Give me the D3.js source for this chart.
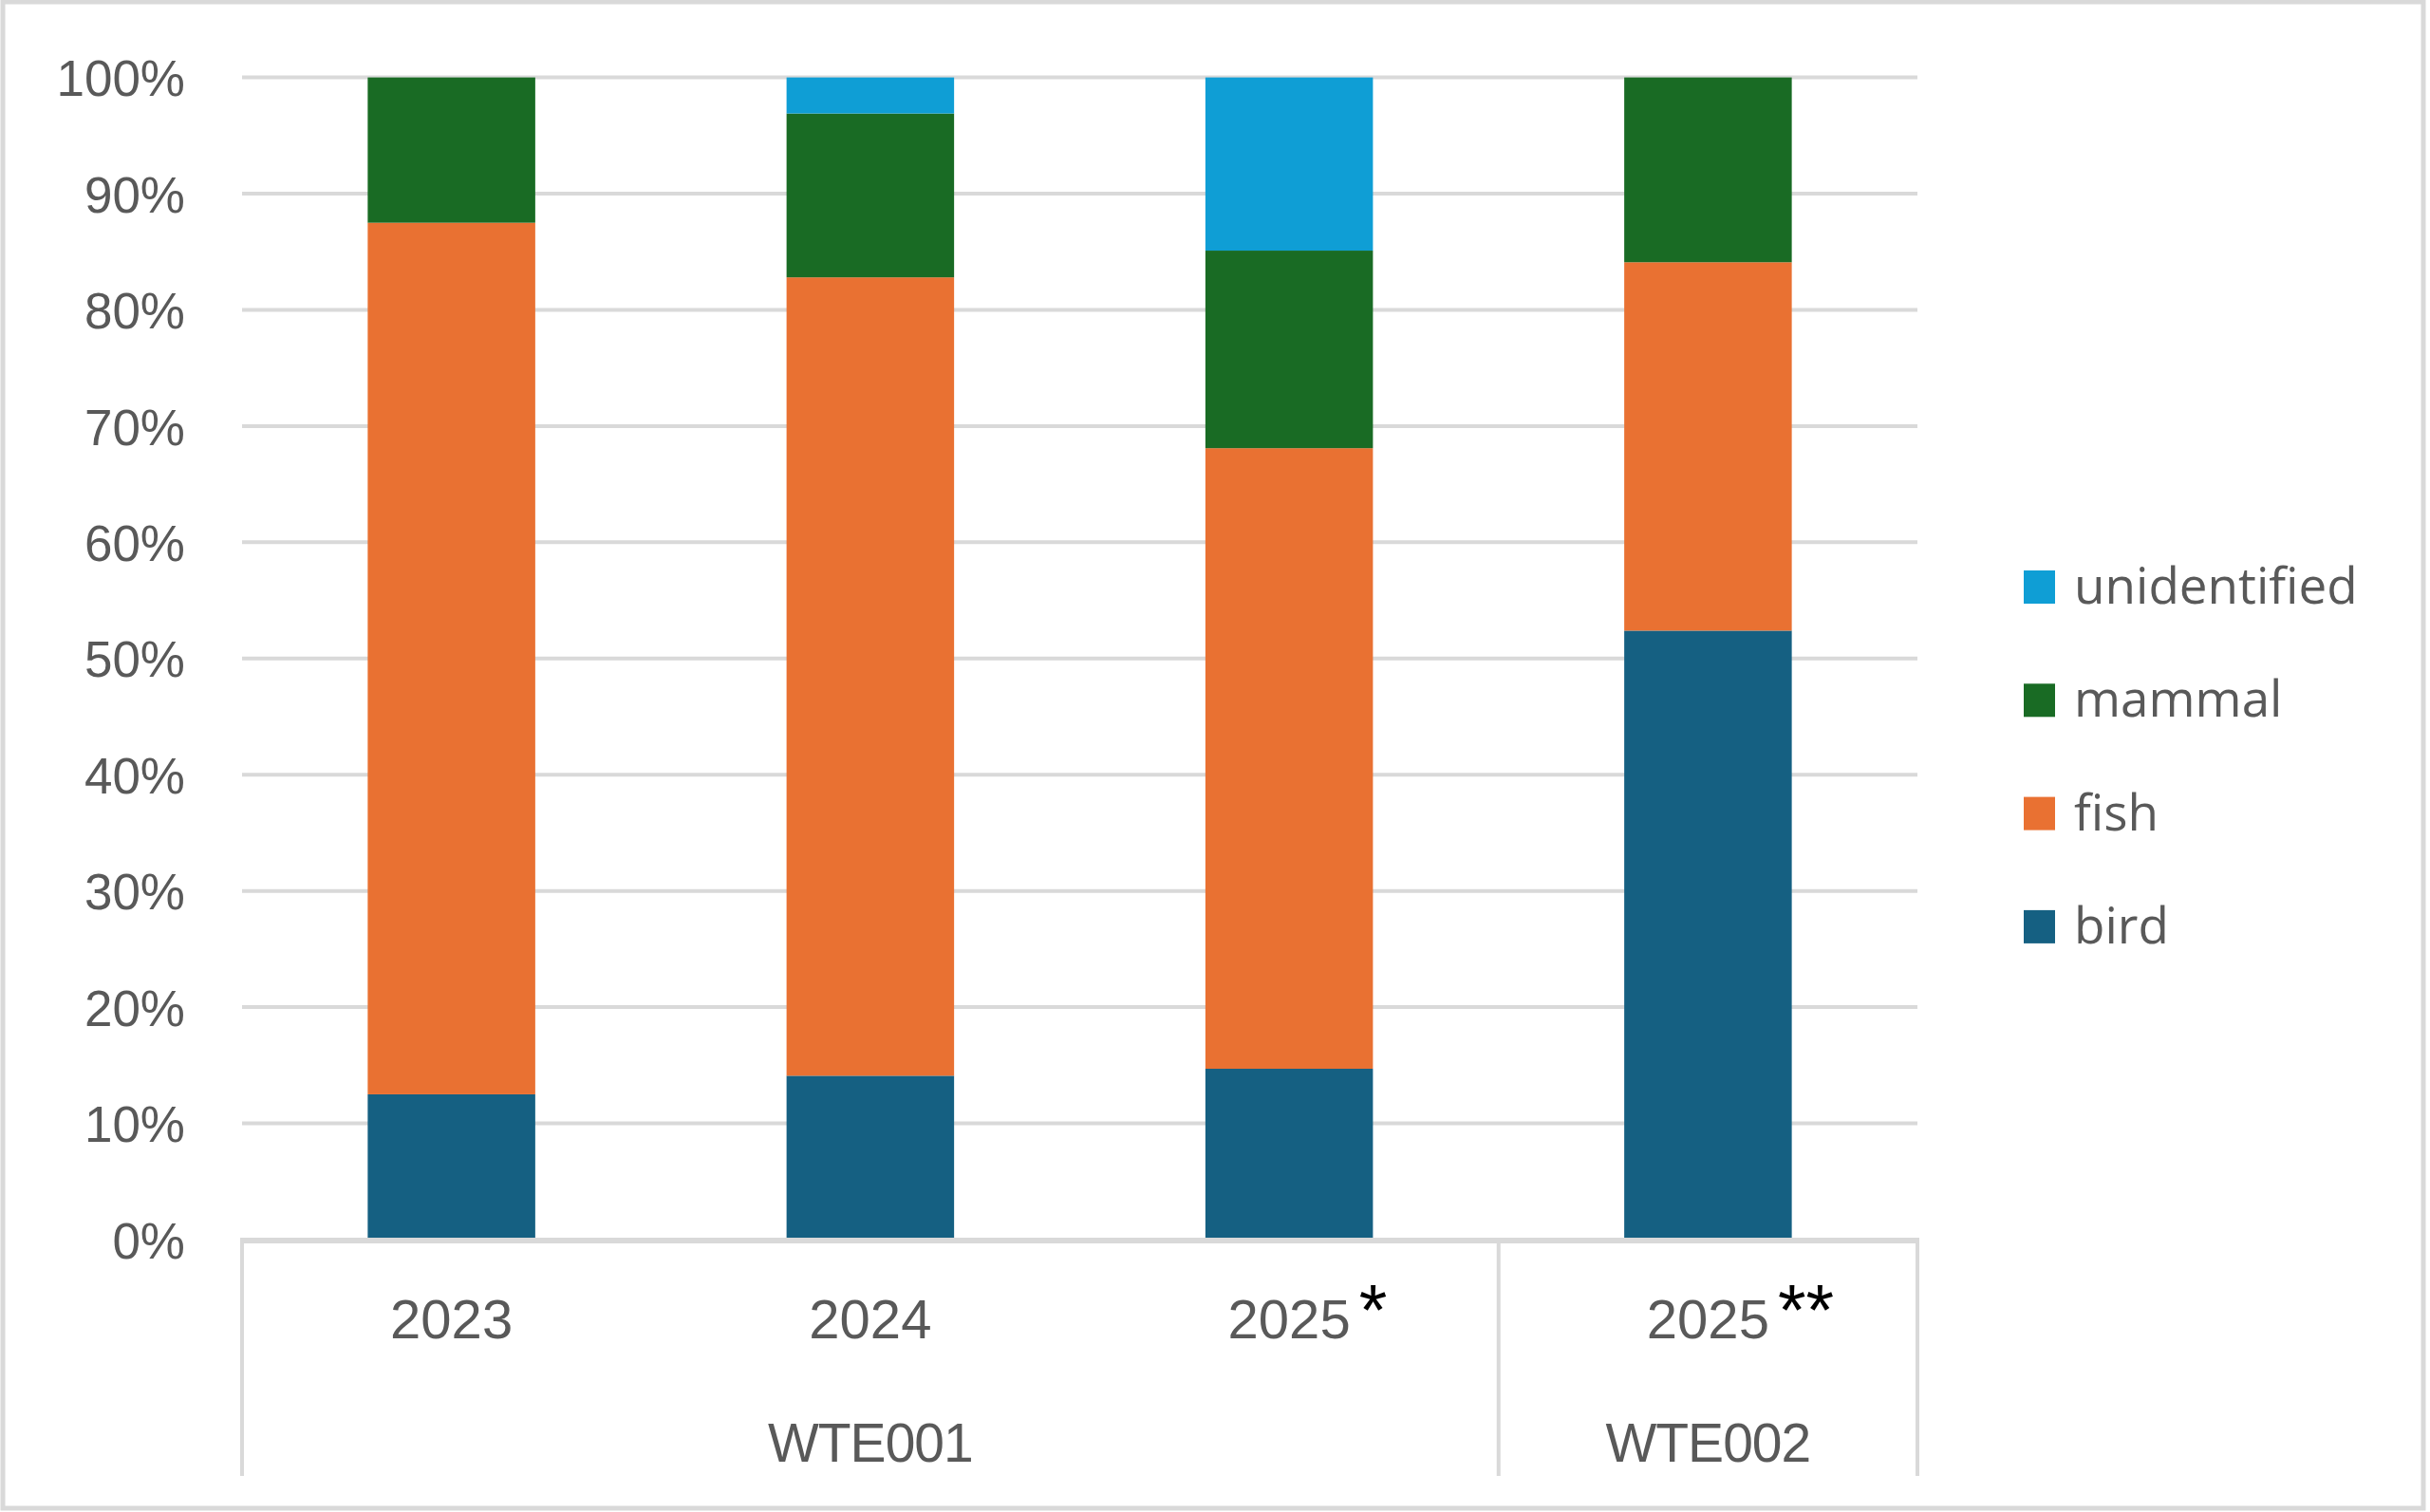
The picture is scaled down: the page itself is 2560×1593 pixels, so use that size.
<!DOCTYPE html>
<html lang="en">
<head>
<meta charset="utf-8">
<title>diet composition</title>
<script src="https://cdn.jsdelivr.net/npm/d3@7"></script>
<style>
    body { margin: 0; background: #fff; }
    svg { display: block; }
    .axis text { font-family: "Liberation Sans", Arial, sans-serif; fill: #595959; }
    .legend text { font-family: "Open Sans", "Noto Sans", sans-serif; fill: #595959; }
</style>
</head>
<body>
<svg id="chart" width="2560" height="1593"></svg>
<script>
    // categories (two-level axis)
    const sites = ["WTE001", "WTE001", "WTE001", "WTE002"]
    const years = ["2023", "2024", "2025", "2025"]
    const notes = ["", "", "*", "**"]

    // series, percent of items per category
    const species = ["bird", "fish", "mammal", "unidentified"]
    const colors = ["#156082", "#e97132", "#196b24", "#0f9ed5"]
    const bird = [12.5, 14.1, 14.7, 52.4]
    const fish = [75.0, 68.7, 53.4, 31.7]
    const mammal = [12.5, 14.1, 17.0, 15.9]
    const unidentified = [0, 3.1, 14.9, 0]

    const svg = d3.select("#chart")
    const W = 2560, H = 1593
    const plotLeft = 255, plotRight = 2020, plotTop = 81.6, plotBottom = 1306

    // outer frame
    svg.append("rect")
        .attr("x", 3).attr("y", 2).attr("width", W - 10).attr("height", H - 6)
        .attr("fill", "#fff").attr("stroke", "#d9d9d9").attr("stroke-width", 5)

    const series = { bird, fish, mammal, unidentified }
    const rows = years.map((yr, i) => {
        const r = { idx: i }
        species.forEach(s => r[s] = series[s][i] / 100)
        return r
    })

    const x = d3.scaleBand().domain(d3.range(years.length)).range([plotLeft, plotRight]).padding(0)
    const y = d3.scaleLinear().domain([0, 1]).range([plotBottom, plotTop])
    const color = d3.scaleOrdinal().domain(species).range(colors)
    const barW = x.bandwidth() * 0.4

    // gridlines
    svg.append("g")
        .selectAll("line")
        .data(y.ticks(10).filter(t => t > 0))
        .join("line")
        .attr("x1", plotLeft).attr("x2", plotRight)
        .attr("y1", d => y(d)).attr("y2", d => y(d))
        .attr("stroke", "#d9d9d9").attr("stroke-width", 4)

    // y axis labels
    const yAxis = svg.append("g")
        .attr("class", "axis")
        .attr("transform", `translate(${plotLeft - 60},0)`)
        .call(d3.axisLeft(y).ticks(10).tickFormat(d3.format(".0%")).tickSize(0).tickPadding(0))
    yAxis.select(".domain").remove()
    yAxis.selectAll("text").attr("font-size", 53).attr("dy", "0.36em")

    // stacked bars
    const stacked = d3.stack().keys(species)(rows)
    svg.append("g")
        .selectAll("g")
        .data(stacked)
        .join("g")
        .attr("fill", d => color(d.key))
        .selectAll("rect")
        .data(d => d)
        .join("rect")
        .attr("x", d => x(d.data.idx) + (x.bandwidth() - barW) / 2)
        .attr("width", barW)
        .attr("y", d => y(d[1]))
        .attr("height", d => y(d[0]) - y(d[1]))

    // category axis line
    svg.append("line")
        .attr("x1", plotLeft - 2).attr("x2", plotRight + 2)
        .attr("y1", plotBottom + 1).attr("y2", plotBottom + 1)
        .attr("stroke", "#d9d9d9").attr("stroke-width", 6)

    // group spans from sites
    const groups = []
    sites.forEach((s, i) => {
        const g = groups[groups.length - 1]
        if (g && g.name === s) g.end = i
        else groups.push({ name: s, start: i, end: i })
    })
    const sepBottom = 1555
    const edges = [plotLeft].concat(groups.map(g => x(g.end) + x.bandwidth()))
    svg.append("g")
        .selectAll("line")
        .data(edges)
        .join("line")
        .attr("x1", d => d).attr("x2", d => d)
        .attr("y1", plotBottom).attr("y2", sepBottom)
        .attr("stroke", "#d9d9d9").attr("stroke-width", 4)

    const xAxis = svg.append("g").attr("class", "axis")
    const yearText = xAxis.selectAll("text.year")
        .data(years)
        .join("text")
        .attr("class", "year")
        .attr("x", (d, i) => x(i) + x.bandwidth() / 2)
        .attr("y", 1410)
        .attr("text-anchor", "middle")
        .attr("font-size", 58)
        .text(d => d)

    // footnote marks after the year
    yearText.each(function (d, i) {
        if (!notes[i]) return
        const w = this.getComputedTextLength()
        xAxis.append("text")
            .attr("x", x(i) + x.bandwidth() / 2 + w / 2 + 9)
            .attr("y", 1406)
            .attr("font-size", 76)
            .style("fill", "#000")
            .text(notes[i])
    })

    xAxis.selectAll("text.site")
        .data(groups)
        .join("text")
        .attr("class", "site")
        .attr("x", g => (x(g.start) + x(g.end) + x.bandwidth()) / 2)
        .attr("y", 1540)
        .attr("text-anchor", "middle")
        .attr("font-size", 57)
        .attr("letter-spacing", -1)
        .text(g => g.name)

    // legend, reverse of stack order
    const legend = svg.append("g").attr("class", "legend")
        .selectAll("g")
        .data(species.slice().reverse())
        .join("g")
        .attr("transform", (d, i) => `translate(2132,${618 + i * 119.3})`)
    legend.append("rect")
        .attr("x", 0).attr("y", -17).attr("width", 33).attr("height", 35)
        .attr("fill", d => color(d))
    legend.append("text")
        .attr("x", 53).attr("y", 18)
        .attr("font-size", 53)
        .text(d => d)
</script>
</body>
</html>
